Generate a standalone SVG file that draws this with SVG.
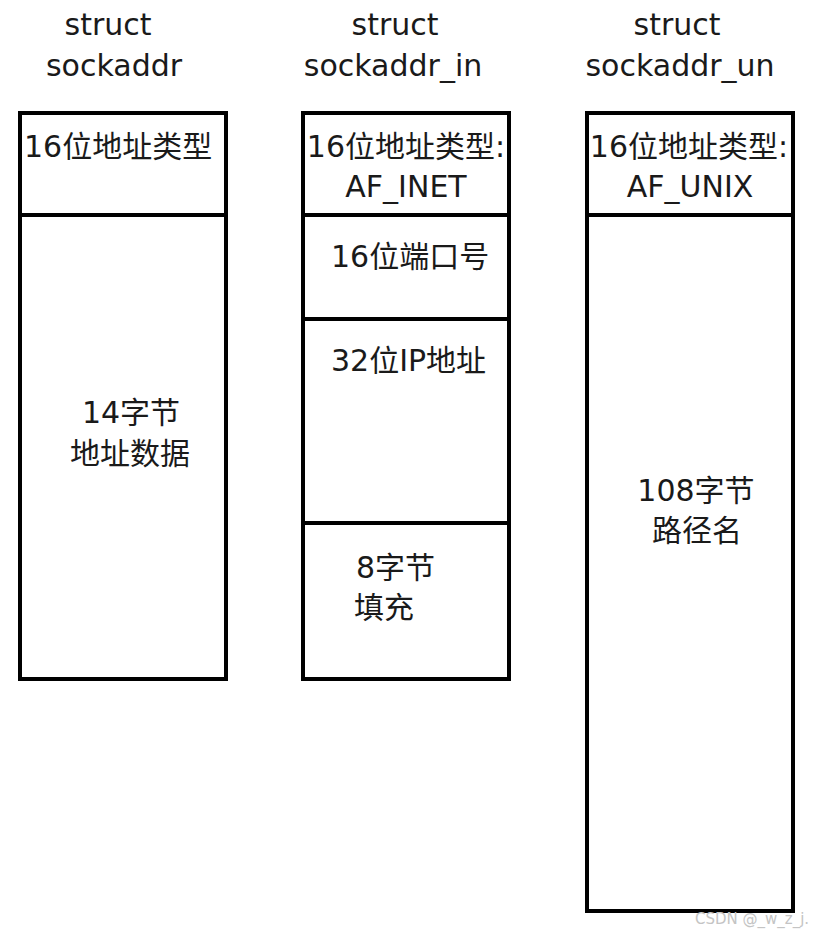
<svg xmlns="http://www.w3.org/2000/svg" width="813" height="935" viewBox="0 0 813 935">
<style>
.box{fill:#fff;stroke:#000;stroke-width:4}
.div{stroke:#000;stroke-width:4}
text{font-family:"DejaVu Sans","Noto Sans CJK SC",sans-serif;font-size:30px;fill:#1a1a1a}
.c{text-anchor:middle}
.wm{font-family:"DejaVu Sans",sans-serif;font-size:15px;fill:#c4c4c4}
</style>
<rect width="813" height="935" fill="#fff"/>
<g id="sockaddr">
<text class="c" x="108" y="35">struct</text>
<text class="c" x="114" y="76">sockaddr</text>
<rect class="box" x="20" y="113" width="206" height="566"/>
<line class="div" x1="20" y1="215" x2="226" y2="215"/>
<text x="24" y="157">16位地址类型</text>
<text class="c" x="131" y="423">14字节</text>
<text class="c" x="130" y="464">地址数据</text>
</g>
<g id="sockaddr_in">
<text class="c" x="395" y="35">struct</text>
<text class="c" x="393" y="76">sockaddr_in</text>
<rect class="box" x="303" y="113" width="206" height="566"/>
<line class="div" x1="303" y1="215" x2="509" y2="215"/>
<line class="div" x1="303" y1="319" x2="509" y2="319"/>
<line class="div" x1="303" y1="523" x2="509" y2="523"/>
<text class="c" x="406" y="157">16位地址类型:</text>
<text class="c" x="406" y="197">AF_INET</text>
<text x="331" y="267">16位端口号</text>
<text x="331" y="371">32位IP地址</text>
<text x="356" y="578">8字节</text>
<text x="354" y="618">填充</text>
</g>
<g id="sockaddr_un">
<text class="c" x="677" y="35">struct</text>
<text class="c" x="680" y="76">sockaddr_un</text>
<rect class="box" x="587" y="113" width="206" height="798"/>
<line class="div" x1="587" y1="215" x2="793" y2="215"/>
<text class="c" x="689" y="157">16位地址类型:</text>
<text class="c" x="690" y="197">AF_UNIX</text>
<text class="c" x="696" y="501">108字节</text>
<text class="c" x="697" y="541">路径名</text>
</g>
<g id="connectors"/>
<text class="wm" x="695" y="924">CSDN @_w_z_j.</text>
</svg>
